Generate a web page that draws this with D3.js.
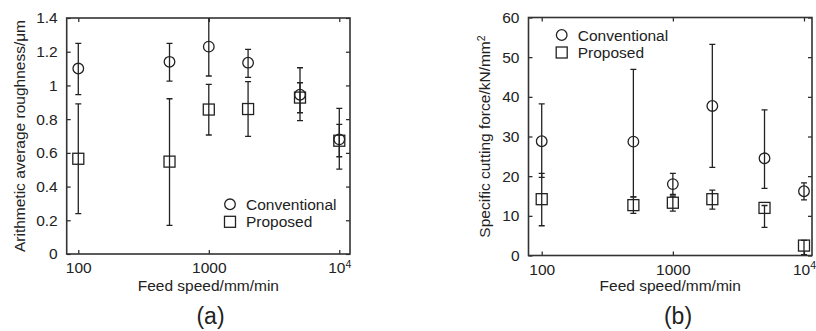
<!DOCTYPE html>
<html>
<head>
<meta charset="utf-8">
<script src="https://cdn.jsdelivr.net/npm/d3@7"></script>
<style>
  body { margin: 0; background: #fff; }
  text { font-family: "Liberation Sans", Arial, sans-serif; fill: #222; }
</style>
</head>
<body>
<svg id="chart" width="816" height="331"></svg>
<script>
// feed speed, mm/min
var feedSpeed = [100, 500, 1000, 2000, 5000, 10000];

// (a) arithmetic average roughness, um
var raConv   = [1.10, 1.14, 1.23, 1.135, 0.945, 0.68];
var raConvLo = [0.945, 1.026, 1.056, 1.048, 0.791, 0.504];
var raConvHi = [1.25, 1.25, 1.45, 1.214, 1.105, 0.864];
var raProp   = [0.565, 0.548, 0.857, 0.86, 0.928, 0.672];
var raPropLo = [0.239, 0.170, 0.706, 0.698, 0.838, 0.577];
var raPropHi = [0.89, 0.921, 1.006, 1.022, 1.016, 0.769];

// (b) specific cutting force, kN/mm2
var kcConv   = [28.8, 28.7, 18.0, 37.7, 24.5, 16.2];
var kcConvLo = [19.7, 14.8, 15.4, 22.2, 16.9, 14.0];
var kcConvHi = [38.2, 46.9, 20.7, 53.2, 36.7, 18.3];
var kcProp   = [14.2, 12.7, 13.3, 14.2, 12.0, 2.5];
var kcPropLo = [7.5, 10.6, 11.2, 11.7, 7.1, 0.2];
var kcPropHi = [20.7, 14.8, 15.0, 16.5, 12.6, 3.8];

var xTicks = [100, 1000, 10000];
var raTicks = [0, 0.2, 0.4, 0.6, 0.8, 1, 1.2, 1.4];
var kcTicks = [0, 10, 20, 30, 40, 50, 60];

var seriesNames = ['Conventional', 'Proposed'];

var svg = d3.select('#chart');
var ink = '#222';

function drawPanel(p) {
  var x = d3.scaleLog().domain(p.xDomain).range([p.left, p.right]);
  var y = d3.scaleLinear().domain(p.yDomain).range([p.bottom, p.top]);
  var g = svg.append('g').attr('id', p.id);

  g.append('clipPath').attr('id', p.id + '-clip')
    .append('rect')
      .attr('x', p.left).attr('y', p.top)
      .attr('width', p.right - p.left).attr('height', p.bottom - p.top);

  // axes, ticks pointing inward
  var bottomAxis = g.append('g')
      .attr('transform', 'translate(0,' + p.bottom + ')')
      .call(d3.axisBottom(x).tickValues(xTicks).tickSizeInner(-4).tickSizeOuter(0).tickPadding(8)
        .tickFormat(function(d) { return d === 10000 ? '' : d; }));
  bottomAxis.selectAll('.tick text')
      .filter(function(d) { return d === 10000; })
      .text('10')
      .append('tspan').attr('dy', '-0.5em').attr('font-size', '0.68em').text('4');

  g.append('g')
      .attr('transform', 'translate(0,' + p.top + ')')
      .call(d3.axisTop(x).tickValues(xTicks).tickSizeInner(-4).tickSizeOuter(0).tickFormat(''));

  g.append('g')
      .attr('transform', 'translate(' + p.left + ',0)')
      .call(d3.axisLeft(y).tickValues(p.yTicks).tickSizeInner(-4).tickSizeOuter(0).tickPadding(9)
        .tickFormat(function(d) { return String(+d.toFixed(1)); }));

  g.append('g')
      .attr('transform', 'translate(' + p.right + ',0)')
      .call(d3.axisRight(y).tickValues(p.yTicks).tickSizeInner(-4).tickSizeOuter(0).tickFormat(''));

  g.selectAll('.domain').remove();
  g.selectAll('.tick line').attr('stroke', ink).attr('stroke-width', 1.2);
  g.selectAll('.tick text').attr('font-size', 15.5).attr('fill', ink);

  g.append('rect')
      .attr('x', p.left).attr('y', p.top)
      .attr('width', p.right - p.left).attr('height', p.bottom - p.top)
      .attr('fill', 'none').attr('stroke', '#333').attr('stroke-width', 1.6);

  // error bars and markers
  var plot = g.append('g').attr('clip-path', 'url(#' + p.id + '-clip)');
  var cap = 3;
  p.series.forEach(function(s) {
    var rows = feedSpeed.map(function(f, i) { return { f: f, v: s.v[i], lo: s.lo[i], hi: s.hi[i] }; });
    var eb = plot.append('g').selectAll('g').data(rows).enter().append('g')
        .attr('stroke', ink).attr('stroke-width', 1.3);
    eb.append('line')
        .attr('x1', function(d) { return x(d.f); }).attr('x2', function(d) { return x(d.f); })
        .attr('y1', function(d) { return y(d.lo); }).attr('y2', function(d) { return y(d.hi); });
    eb.append('line')
        .attr('x1', function(d) { return x(d.f) - cap; }).attr('x2', function(d) { return x(d.f) + cap; })
        .attr('y1', function(d) { return y(d.lo); }).attr('y2', function(d) { return y(d.lo); });
    eb.append('line')
        .attr('x1', function(d) { return x(d.f) - cap; }).attr('x2', function(d) { return x(d.f) + cap; })
        .attr('y1', function(d) { return y(d.hi); }).attr('y2', function(d) { return y(d.hi); });

    var marks = plot.append('g').selectAll('.mark').data(rows).enter();
    if (s.shape === 'circle') {
      marks.append('circle')
          .attr('cx', function(d) { return x(d.f); })
          .attr('cy', function(d) { return y(d.v); })
          .attr('r', 5.3)
          .attr('fill', 'none').attr('stroke', ink).attr('stroke-width', 1.3);
    } else {
      marks.append('rect')
          .attr('x', function(d) { return x(d.f) - 5.5; })
          .attr('y', function(d) { return y(d.v) - 5.5; })
          .attr('width', 11).attr('height', 11)
          .attr('fill', 'none').attr('stroke', ink).attr('stroke-width', 1.3);
    }
  });

  // legend
  var lg = g.append('g').attr('transform', 'translate(' + p.legend[0] + ',' + p.legend[1] + ')');
  lg.append('circle').attr('cx', 0).attr('cy', 0).attr('r', 5.3)
      .attr('fill', 'none').attr('stroke', ink).attr('stroke-width', 1.3);
  lg.append('rect').attr('x', -5.5).attr('y', 17.5 - 5.5).attr('width', 11).attr('height', 11)
      .attr('fill', 'none').attr('stroke', ink).attr('stroke-width', 1.3);
  lg.selectAll('text').data(seriesNames).enter().append('text')
      .attr('x', 16).attr('y', function(d, i) { return i * 17.5 + 5.5; })
      .attr('font-size', 15.5).attr('fill', ink)
      .text(function(d) { return d; });

  // axis titles
  g.append('text')
      .attr('x', (p.left + p.right) / 2).attr('y', 291)
      .attr('text-anchor', 'middle').attr('font-size', 15.5)
      .text('Feed speed/mm/min');

  var yt = g.append('text')
      .attr('transform', 'translate(' + p.yTitleX + ',' + (p.top + p.bottom) / 2 + ') rotate(-90)')
      .attr('text-anchor', 'middle').attr('font-size', 15.5)
      .text(p.yTitle);
  if (p.yTitleSup) {
    yt.append('tspan').attr('dy', '-0.5em').attr('font-size', '0.68em').text(p.yTitleSup);
  }

  g.append('text')
      .attr('x', p.captionX).attr('y', 323.5)
      .attr('text-anchor', 'middle').attr('font-size', 23)
      .text(p.caption);
}

drawPanel({
  id: 'pa', left: 66.7, right: 350, top: 18, bottom: 254,
  xDomain: [81.5, 12080], yDomain: [0, 1.4], yTicks: raTicks,
  series: [
    { shape: 'circle', v: raConv, lo: raConvLo, hi: raConvHi },
    { shape: 'square', v: raProp, lo: raPropLo, hi: raPropHi }
  ],
  legend: [230, 204.3],
  yTitle: 'Arithmetic average roughness/\u03bcm', yTitleX: 25,
  caption: '(a)', captionX: 210.5
});

drawPanel({
  id: 'pb', left: 528.5, right: 812, top: 17.5, bottom: 255.5,
  xDomain: [79.3, 11510], yDomain: [0, 60], yTicks: kcTicks,
  series: [
    { shape: 'circle', v: kcConv, lo: kcConvLo, hi: kcConvHi },
    { shape: 'square', v: kcProp, lo: kcPropLo, hi: kcPropHi }
  ],
  legend: [561.7, 35],
  yTitle: 'Specific cutting force/kN/mm', yTitleSup: '2', yTitleX: 490,
  caption: '(b)', captionX: 678
});
</script>
</body>
</html>
